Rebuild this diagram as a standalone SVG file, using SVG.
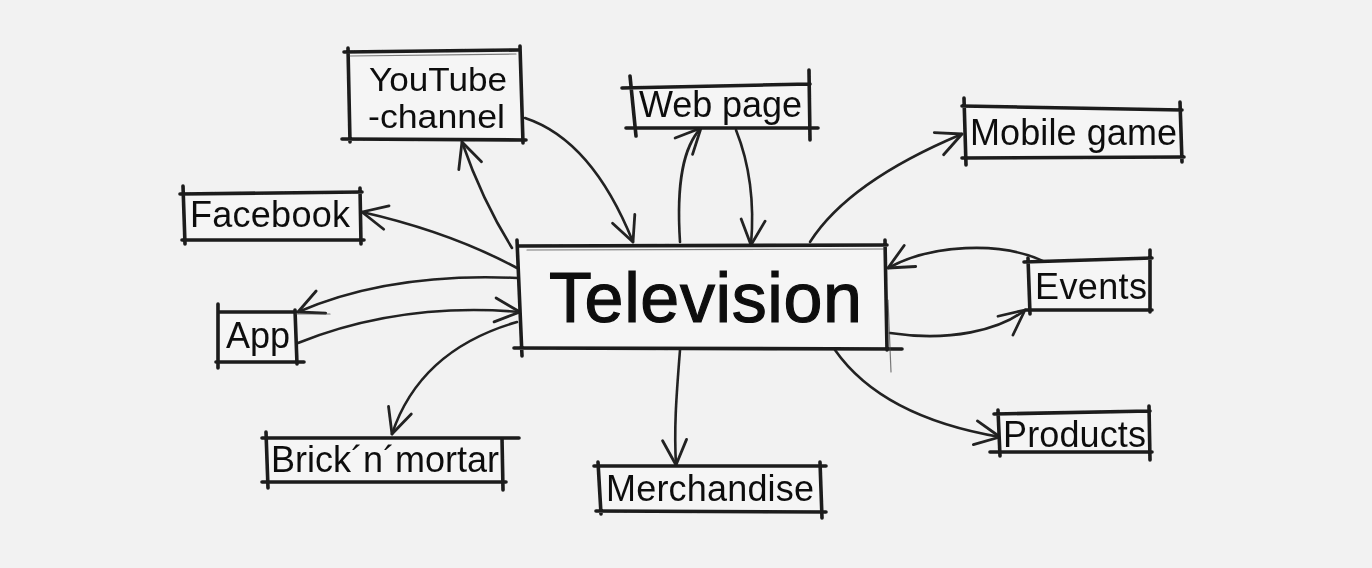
<svg xmlns="http://www.w3.org/2000/svg" width="1372" height="568" viewBox="0 0 1372 568">
<style>
.bg{fill:#f2f2f2}
.edge{stroke:#1c1c1c;stroke-width:3.6;stroke-linecap:round;fill:none}
.ghost{stroke:#444;stroke-width:1.2;stroke-linecap:round;fill:none;opacity:.7}
.box{fill:#f5f5f5}
.lbl{font-family:"Liberation Sans",Arial,sans-serif;font-size:36px;fill:#111}
.yt{font-size:34px}
.big{font-family:"Liberation Sans",Arial,sans-serif;font-size:70px;fill:#0d0d0d;stroke:#0d0d0d;stroke-width:1.2}
.conn{stroke:#222;stroke-width:2.6;fill:none;stroke-linecap:round;marker-end:url(#ah)}
</style>
<defs>
<marker id="ah" viewBox="0 0 30 30" refX="28" refY="15" markerWidth="30" markerHeight="30" markerUnits="userSpaceOnUse" orient="auto">
<path d="M3,3 L28,15 L3,27" fill="none" stroke="#222" stroke-width="2.8" stroke-linecap="round" stroke-linejoin="round"/>
</marker>
<filter id="soft" x="-5%" y="-5%" width="110%" height="110%"><feGaussianBlur stdDeviation="0.5"/></filter>
</defs>
<rect class="bg" x="0" y="0" width="1372" height="568"/>

<g id="connectors" filter="url(#soft)">
<path class="conn" d="M512,248 Q482,200 462,142"/>
<path class="conn" d="M525,118 Q592,140 633,242"/>
<path class="conn" d="M517,268 Q450,232 362,212"/>
<path class="conn" d="M518,278 Q390,272 298,312"/>
<path class="conn" d="M298,343 Q400,302 520,312"/>
<path class="conn" d="M517,322 Q420,350 392,434"/>
<path class="conn" d="M680,242 C676,180 684,146 701,128"/>
<path class="conn" d="M736,130 C752,170 754,210 751,245"/>
<path class="conn" d="M810,242 C840,195 900,160 962,134"/>
<path class="conn" d="M1045,262 C1000,240 930,245 888,268"/>
<path class="conn" d="M890,333 C950,342 1000,330 1025,310"/>
<path class="conn" d="M680,350 C676,400 674,430 676,465"/>
<path class="conn" d="M835,350 C870,400 930,425 1000,437"/>
</g>

<g id="node-youtube" filter="url(#soft)">
<rect class="box" x="348" y="53" width="175" height="87"/>
<path class="edge" d="M344,52 L518,50 M348,48 L350,142 M520,46 L523,143 M342,139 L526,140"/>
<path class="ghost" d="M350,56 L516,54"/>
<text class="lbl yt" x="369" y="91" textLength="138" lengthAdjust="spacingAndGlyphs">YouTube</text>
<text class="lbl yt" x="368" y="128" textLength="137" lengthAdjust="spacingAndGlyphs">-channel</text>
</g>

<g id="node-webpage" filter="url(#soft)">
<rect class="box" x="632" y="86" width="178" height="42"/>
<path class="edge" d="M622,88 L810,84 M630,76 L636,136 M809,70 L810,140 M626,128 L818,128"/>
<text class="lbl" x="639" y="117" textLength="163">Web page</text>
</g>

<g id="node-mobile" filter="url(#soft)">
<rect class="box" x="965" y="108" width="215" height="50"/>
<path class="edge" d="M962,106 L1182,110 M964,98 L966,165 M1180,102 L1182,162 M962,158 L1184,157"/>
<text class="lbl" x="970" y="145" textLength="207">Mobile game</text>
</g>

<g id="node-facebook" filter="url(#soft)">
<rect class="box" x="184" y="195" width="175" height="45"/>
<path class="edge" d="M180,194 L362,192 M183,186 L185,244 M360,188 L361,244 M182,240 L364,240"/>
<text class="lbl" x="190" y="227" textLength="160">Facebook</text>
</g>

<g id="node-app" filter="url(#soft)">
<rect class="box" x="218" y="312" width="78" height="50"/>
<path class="edge" d="M218,312 L296,312 M218,304 L218,368 M295,310 L297,364 M216,362 L304,362"/>
<path class="ghost" d="M296,314 L330,314"/>
<text class="lbl" x="226" y="348" textLength="64">App</text>
</g>

<g id="node-brick" filter="url(#soft)">
<rect class="box" x="266" y="439" width="237" height="43"/>
<path class="edge" d="M262,438 L519,438 M266,432 L268,488 M502,438 L503,490 M262,482 L506,482"/>
<text class="lbl" x="271" y="472" textLength="228">Brick´n´mortar</text>
</g>

<g id="node-television" filter="url(#soft)">
<rect class="box" x="520" y="246" width="367" height="102"/>
<path class="edge" d="M518,246 L887,245 M517,240 L522,356 M885,240 L887,350 M514,348 L902,349"/>
<path class="ghost" d="M888,300 L891,372 M527,250 L884,249"/>
<text class="big" x="549" y="322" textLength="313">Television</text>
</g>

<g id="node-events" filter="url(#soft)">
<rect class="box" x="1028" y="262" width="122" height="48"/>
<path class="edge" d="M1024,262 L1152,258 M1028,258 L1030,314 M1150,250 L1150,312 M1026,310 L1152,310"/>
<text class="lbl" x="1035" y="299" textLength="112">Events</text>
</g>

<g id="node-products" filter="url(#soft)">
<rect class="box" x="998" y="414" width="152" height="38"/>
<path class="edge" d="M994,414 L1150,411 M998,410 L1000,456 M1149,406 L1150,460 M990,452 L1152,452"/>
<text class="lbl" x="1003" y="447" textLength="143">Products</text>
</g>

<g id="node-merch" filter="url(#soft)">
<rect class="box" x="598" y="467" width="223" height="44"/>
<path class="edge" d="M594,466 L826,466 M598,462 L601,514 M820,462 L822,518 M596,511 L826,512"/>
<text class="lbl" x="606" y="501" textLength="208">Merchandise</text>
</g>
</svg>
